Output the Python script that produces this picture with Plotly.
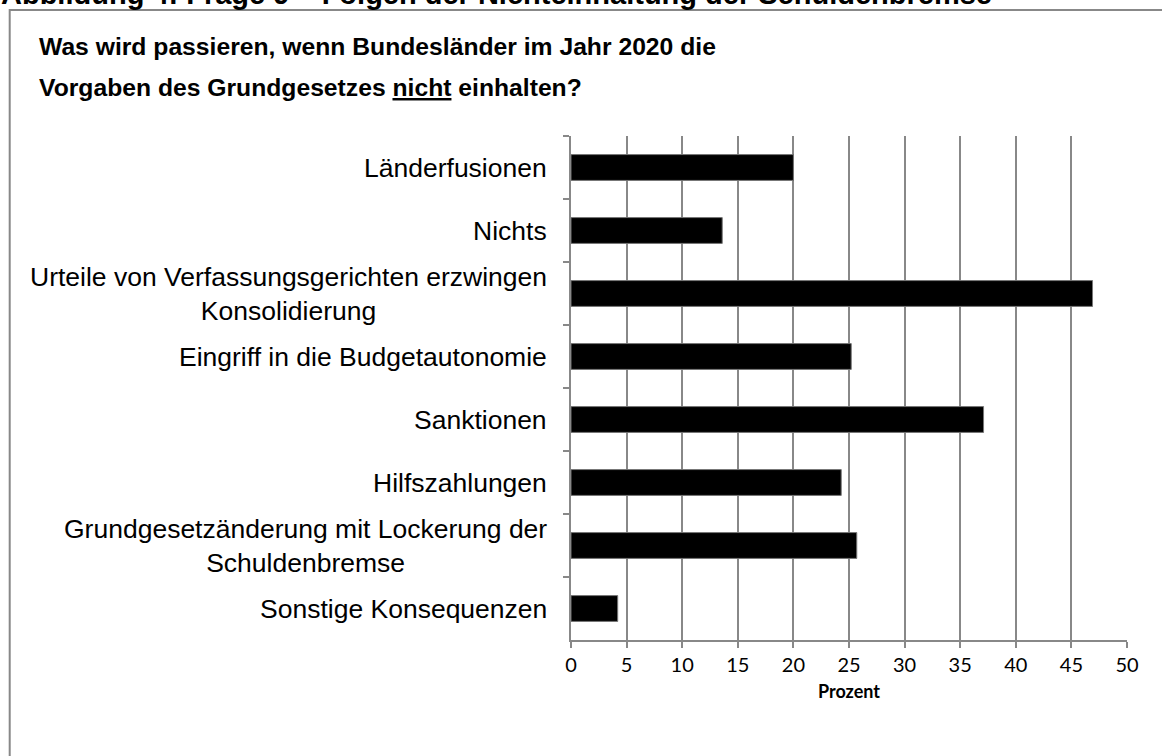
import plotly.graph_objects as go

# Survey answers (share of respondents, percent)
categories = [
    "Länderfusionen",
    "Nichts",
    "Urteile von Verfassungsgerichten erzwingen<br>Konsolidierung",
    "Eingriff in die Budgetautonomie",
    "Sanktionen",
    "Hilfszahlungen",
    "Grundgesetzänderung mit Lockerung der<br>Schuldenbremse",
    "Sonstige Konsequenzen",
]
values = [20.0, 13.6, 46.9, 25.2, 37.1, 24.3, 25.7, 4.2]
x_ticks = [0, 5, 10, 15, 20, 25, 30, 35, 40, 45, 50]

W, H = 1162, 756
L, R, T, B = 570.5, 35.3, 136, 116
plot_w = W - L - R
plot_h = H - T - B

def px_x(p):
    return (p - L) / plot_w

def px_y(p):
    return (H - B - p) / plot_h

GRAY = "#888888"
SANS = "Liberation Sans, Arial, sans-serif"
LABEL_FONT = dict(family=SANS, size=26.5, color="#000000")
TITLE_FONT = dict(family=SANS, size=24.7, color="#000000")

fig = go.Figure(
    go.Bar(
        x=values,
        y=categories,
        orientation="h",
        width=0.41,
        marker=dict(color="#000000", line=dict(color="#777777", width=1)),
        hoverinfo="x+y",
    )
)

# Category labels, right-aligned next to the axis, lines centred within the block
for cat in categories:
    fig.add_annotation(
        x=px_x(L - 22), xref="paper", xanchor="right",
        y=cat, yref="y", yanchor="middle",
        text=cat, showarrow=False, align="center",
        font=LABEL_FONT,
    )

# Chart title, two lines
title_lines = [
    "<b>Was wird passieren, wenn Bundesländer im Jahr 2020 die</b>",
    "<b>Vorgaben des Grundgesetzes <u>nicht</u> einhalten?</b>",
]
for line, yc in zip(title_lines, [47, 88]):
    fig.add_annotation(
        x=px_x(36), xref="paper", xanchor="left",
        y=px_y(yc), yref="paper", yanchor="middle",
        text=line, showarrow=False, align="left",
        font=TITLE_FONT,
    )

# Figure caption above the framed chart
fig.add_annotation(
    x=px_x(-2), xref="paper", xanchor="left",
    y=px_y(12), yref="paper", yanchor="bottom",
    text="<b>Abbildung 4: Frage 9 – Folgen der Nichteinhaltung der Schuldenbremse</b>",
    showarrow=False, align="left",
    font=dict(family=SANS, size=29, color="#000000"),
)

# Chart frame
fig.add_shape(
    type="rect", xref="paper", yref="paper",
    x0=px_x(9), x1=px_x(W + 20), y0=px_y(H + 20), y1=px_y(10),
    line=dict(color=GRAY, width=2), fillcolor="rgba(0,0,0,0)", layer="below",
)

fig.update_layout(
    width=W, height=H,
    margin=dict(l=L, r=R, t=T, b=B, autoexpand=False),
    paper_bgcolor="#ffffff", plot_bgcolor="#ffffff",
    showlegend=False,
    bargap=0.59,
    xaxis=dict(
        range=[0, 50], tickvals=x_ticks, ticktext=[str(v) for v in x_ticks],
        showgrid=True, gridcolor=GRAY, gridwidth=1.5,
        showline=True, linecolor=GRAY, linewidth=2,
        ticks="outside", ticklen=6, tickcolor=GRAY, tickwidth=1.5,
        zeroline=False,
        tickfont=dict(family="Lato, sans-serif", size=20, color="#000000"),
        title=dict(text="<b>Prozent</b>", standoff=10,
                   font=dict(family="Lato, sans-serif", size=18, color="#000000")),
    ),
    yaxis=dict(
        type="category", categoryorder="array", categoryarray=categories,
        autorange="reversed",
        showticklabels=False, tickson="boundaries",
        ticks="outside", ticklen=6, tickcolor=GRAY, tickwidth=1.5,
        showline=True, linecolor=GRAY, linewidth=2,
        showgrid=False, zeroline=False,
    ),
)

fig.write_html("out.html")
